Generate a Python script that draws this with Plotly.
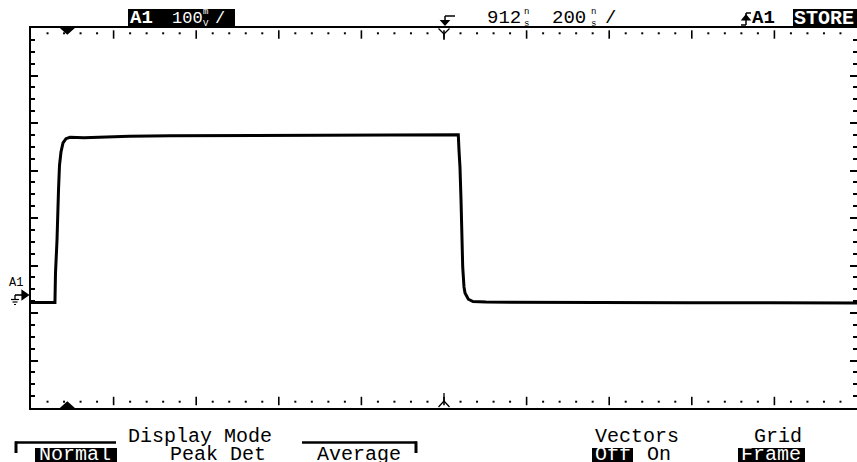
import plotly.graph_objects as go

W, H = 857, 462

# ---- Channel A1 stored waveform: time (ns) and voltage (mV) ----
t_ns = [-88, -60, -40, -30, -28.7, -25.0, -21.4, -19.0, -15.4, -10.5, -3.3, 6.4,
        40, 79, 98, 100, 150, 250, 400, 600, 800, 946.6, 948.3, 950.7, 953.2,
        954.9, 957.3, 960.4, 962.9, 970.9, 982.2, 1013.7, 1100, 1300, 1500,
        1700, 1912]
v_mv = [1, 1, 0.5, 1, 63, 133, 238, 290, 318, 337, 346, 349,
        348, 349, 351, 350, 351, 352, 352.5, 353, 353.5, 354, 322, 286, 217,
        147, 76, 34, 21, 8, 3, 2, 1.5, 1, 0.5,
        0.5, 0]

# ---- Scope settings ----
delay_ns = 912
ns_per_div = 200
mv_per_div = 100
h_divs = 10
v_divs = 8
t_left = delay_ns - h_divs / 2 * ns_per_div
t_right = t_left + h_divs * ns_per_div
v_bottom = -221
v_top = v_bottom + v_divs * mv_per_div

# Graticule area in pixels
X0, X1 = 31, 857
Y0, Y1 = 28, 408
mv_per_px = (v_top - v_bottom) / (Y1 - Y0)

FONT = "Liberation Mono"


def fx(px):
    return px / W


def fy(py):
    return 1 - py / H


def t_to_px(t):
    return X0 + (t - t_left) / (t_right - t_left) * (X1 - X0)


def P(x, y):
    return f"{fx(x):.5f},{fy(y):.5f}"


shapes = []
annotations = []


def rect(x0, y0, x1, y1, color="black"):
    shapes.append(dict(type="rect", xref="paper", yref="paper",
                       x0=fx(x0), x1=fx(x1), y0=fy(y1), y1=fy(y0),
                       fillcolor=color, line=dict(width=0), layer="above"))


def seg(x0, y0, x1, y1, w=2):
    shapes.append(dict(type="line", xref="paper", yref="paper",
                       x0=fx(x0), x1=fx(x1), y0=fy(y0), y1=fy(y1),
                       line=dict(color="black", width=w), layer="above"))


def poly(pts, fill="black", w=1.2):
    path = "M" + " L".join(P(x, y) for x, y in pts) + " Z"
    shapes.append(dict(type="path", xref="paper", yref="paper", path=path,
                       fillcolor=fill, line=dict(color="black", width=w),
                       layer="above"))


def label(text, x, y, size, color="black", anchor="left"):
    annotations.append(dict(text=text, x=fx(x), y=fy(y), xref="paper",
                            yref="paper", xanchor=anchor, yanchor="middle",
                            showarrow=False, borderpad=0, borderwidth=0,
                            font=dict(family=FONT, size=size, color=color)))


# ---- Header line ----
rect(128, 9, 235, 27)
label("<b>A1</b>", 130, 18, 19, "white")
label("100", 172, 18, 17, "white")
label("m<br>V", 203, 18, 9, "white")
label("/", 215, 18, 17, "white")

# trigger-position glyph
seg(445, 16, 455, 16, 1.5)
seg(445, 16, 445, 21, 1.5)
poly([(441, 20.5), (449, 20.5), (445, 25)])

label("912", 487, 18, 19)
label("n<br>s", 524, 18, 9)
label("200", 552, 18, 19)
label("n<br>s", 591, 18, 9)
label("/", 605, 18, 19)

# rising slope glyph
seg(741, 25, 746, 25, 1.5)
seg(746, 25, 746, 13, 1.5)
seg(746, 13, 751, 13, 1.5)
poly([(742, 20), (750, 20), (746, 15)])
label("<b>A1</b>", 752, 18, 19)
rect(793, 9, 857, 27)
label("<b>STORE</b>", 794, 18, 20, "white")

# ---- Trigger / delay markers on the frame ----
xt = t_to_px(0)
poly([(xt - 6, 28.5), (xt + 6, 28.5), (xt, 34)])
poly([(xt - 6, 407.5), (xt + 6, 407.5), (xt, 402)])
xd = t_to_px(delay_ns)
seg(xd - 5.5, 28.5, xd, 34, 1.3)
seg(xd + 5.5, 28.5, xd, 34, 1.3)
seg(xd, 34, xd, 40, 1.3)
seg(xd - 5.5, 407, xd, 401, 1.3)
seg(xd + 5.5, 407, xd, 401, 1.3)
seg(xd, 401, xd, 393, 1.3)

# ---- Channel reference marker on the left ----
label("A1", 9, 282.5, 12)
seg(15, 295, 23, 295, 1.6)
seg(15, 295, 15, 299, 1.3)
poly([(22, 290.5), (28.5, 295), (22, 299.5)])
seg(11, 299.5, 19, 299.5, 1.2)
seg(12.5, 302, 17.5, 302, 1.2)
seg(14, 304.5, 16, 304.5, 1.2)

# ---- Softkey menu ----
ROW1, ROW2, MS = 436.5, 454.5, 20
seg(15, 442.5, 116, 442.5, 2.5)
seg(16, 441.5, 16, 453, 3)
label("Display Mode", 128, ROW1, MS)
seg(302, 442.5, 417, 442.5, 2.5)
seg(416, 441.5, 416, 453, 3)
rect(35, 448, 117, 462)
label("Normal", 39, ROW2, MS, "white")
label("Peak Det", 170, ROW2, MS)
label("Average", 317, ROW2, MS)
label("Vectors", 595, ROW1, MS)
rect(592, 448, 633, 462)
label("Off", 595, ROW2, MS, "white")
label("On", 647, ROW2, MS)
label("Grid", 754, ROW1, MS)
rect(738, 448, 805, 462)
label("Frame", 741, ROW2, MS, "white")

# ---- Horizontal graticule: minor dots and major bars along top and bottom ----
minor_step = ns_per_div / 5
dots_t = []
bars_t = []
for k in range(1, h_divs * 5):
    t = t_left + k * minor_step
    if k % 5 == 0:
        bars_t.append(t)
    else:
        dots_t.append(t)

top_dot = v_top - 5.3 * mv_per_px
bot_dot = v_bottom + 6.3 * mv_per_px
top_bar = v_top - 6.5 * mv_per_px
bot_bar = v_bottom + 7.0 * mv_per_px

fig = go.Figure()
fig.add_trace(go.Scatter(
    x=dots_t + dots_t, y=[top_dot] * len(dots_t) + [bot_dot] * len(dots_t),
    mode="markers", hoverinfo="skip",
    marker=dict(symbol="square", size=2, color="black", line=dict(width=0))))
fig.add_trace(go.Scatter(
    x=bars_t + bars_t, y=[top_bar] * len(bars_t) + [bot_bar] * len(bars_t),
    mode="markers", hoverinfo="skip", yaxis="y2",
    marker=dict(symbol="line-ns", size=6, color="black",
                line=dict(width=1.6, color="black"))))
fig.add_trace(go.Scatter(
    x=t_ns, y=v_mv, mode="lines", hoverinfo="skip",
    line=dict(color="black", width=3)))

yticks = dict(ticks="inside", tick0=v_bottom, dtick=mv_per_div, ticklen=7,
              tickwidth=1.6, tickcolor="black", showticklabels=False,
              showgrid=False, zeroline=False,
              minor=dict(ticks="inside", tick0=v_bottom, dtick=mv_per_div / 4,
                         ticklen=4, tickwidth=1.6, tickcolor="black",
                         showgrid=False))

fig.update_layout(
    width=W, height=H, margin=dict(l=0, r=0, t=0, b=0),
    paper_bgcolor="white", plot_bgcolor="white", showlegend=False,
    xaxis=dict(domain=[X0 / W, X1 / W], range=[t_left, t_right],
               showline=True, linecolor="black", linewidth=2, mirror=True,
               ticks="", showticklabels=False, showgrid=False,
               zeroline=False, fixedrange=True),
    yaxis=dict(domain=[1 - Y1 / H, 1 - Y0 / H], range=[v_bottom, v_top],
               showline=True, linecolor="black", linewidth=2, mirror=False,
               fixedrange=True, **yticks),
    yaxis2=dict(overlaying="y", side="right", anchor="x",
                range=[v_bottom, v_top], showline=False, fixedrange=True,
                **yticks),
    shapes=shapes, annotations=annotations,
)

fig.write_html("out.html")
